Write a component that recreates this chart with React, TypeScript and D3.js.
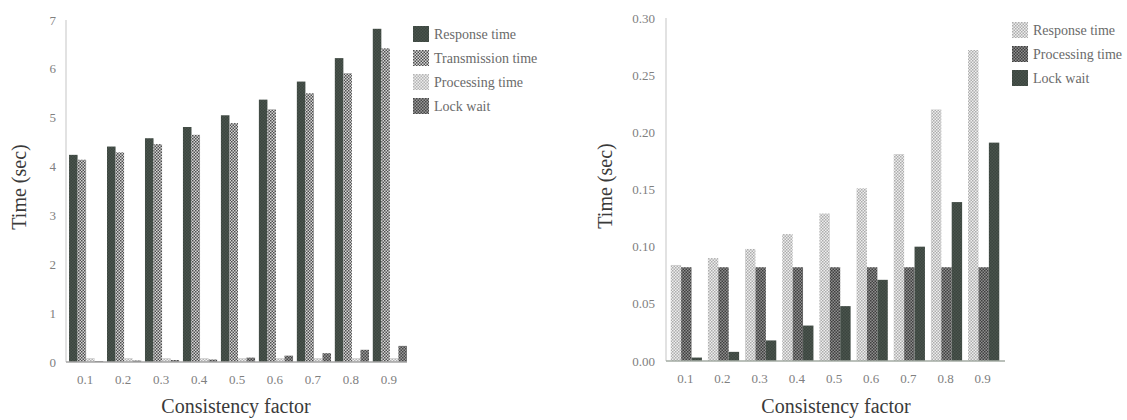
import React, { useEffect } from 'react';
import * as d3 from 'd3';

// --- data ---
const categories = ['0.1', '0.2', '0.3', '0.4', '0.5', '0.6', '0.7', '0.8', '0.9'];

const leftSeries = ['Response time', 'Transmission time', 'Processing time', 'Lock wait'];
const leftResponse = [4.24, 4.41, 4.58, 4.81, 5.05, 5.37, 5.74, 6.22, 6.82];
const leftTransmission = [4.14, 4.29, 4.46, 4.65, 4.89, 5.17, 5.5, 5.91, 6.42];
const leftProcessing = [0.08, 0.08, 0.08, 0.08, 0.08, 0.08, 0.08, 0.08, 0.08];
const leftLockWait = [0.02, 0.03, 0.04, 0.05, 0.09, 0.13, 0.18, 0.25, 0.33];
const leftTicks = [0, 1, 2, 3, 4, 5, 6, 7];

const rightSeries = ['Response time', 'Processing time', 'Lock wait'];
const rightResponse = [0.084, 0.09, 0.098, 0.111, 0.129, 0.151, 0.181, 0.22, 0.272];
const rightProcessing = [0.082, 0.082, 0.082, 0.082, 0.082, 0.082, 0.082, 0.082, 0.082];
const rightLockWait = [0.003, 0.008, 0.018, 0.031, 0.048, 0.071, 0.1, 0.139, 0.191];
const rightTicks = [0, 0.05, 0.1, 0.15, 0.2, 0.25, 0.3];

const FONT = "'Liberation Serif', 'DejaVu Serif', serif";

// checker patterns standing in for the print screens
const patterns = [
  { id: 'solidDark', bg: '#3b453f', fg: '#4a544d' },
  { id: 'hatch', bg: '#d6d6d6', fg: '#4e4e4e' },
  { id: 'light', bg: '#ececec', fg: '#b4b4b4' },
  { id: 'midDark', bg: '#9a9a9a', fg: '#474747' },
  { id: 'rLight', bg: '#eeeeee', fg: '#adadad' },
  { id: 'rMid', bg: '#8e8e8e', fg: '#3f3f3f' },
];

type Panel = {
  key: string;
  series: string[];
  values: number[][];
  fills: string[];
  ticks: number[];
  fmt: (v: number) => string;
  yMax: number;
  axisX0: number; axisX1: number;
  band0: number; band1: number;
  yTop: number; yBottom: number;
  padInner: number; padOuter: number;
  tickEnd: number;
  yTitleX: number; yTitleY: number;
  xTitleX: number;
  legendX: number; legendY: number;
  axisColor: string;
};

const panels: Panel[] = [
  {
    key: 'left',
    series: leftSeries,
    values: [leftResponse, leftTransmission, leftProcessing, leftLockWait],
    fills: ['solidDark', 'hatch', 'light', 'midDark'],
    ticks: leftTicks,
    fmt: d3.format('d'),
    yMax: 7,
    axisX0: 66, axisX1: 407,
    band0: 66, band1: 410,
    yTop: 20, yBottom: 362,
    padInner: 0.1, padOuter: 0.08,
    tickEnd: 56,
    yTitleX: 19, yTitleY: 187,
    xTitleX: 236,
    legendX: 413, legendY: 26,
    axisColor: '#a4a4a4',
  },
  {
    key: 'right',
    series: rightSeries,
    values: [rightResponse, rightProcessing, rightLockWait],
    fills: ['rLight', 'rMid', 'solidDark'],
    ticks: rightTicks,
    fmt: d3.format('.2f'),
    yMax: 0.3,
    axisX0: 666, axisX1: 1005,
    band0: 667, band1: 1003,
    yTop: 18, yBottom: 361,
    padInner: 0.16, padOuter: 0.1,
    tickEnd: 655,
    yTitleX: 605, yTitleY: 186,
    xTitleX: 836,
    legendX: 1012, legendY: 22,
    axisColor: '#a3aba3',
  },
];

const ChartPanel = ({ p }: { p: Panel }) => {
  const x = d3.scaleBand<string>().domain(categories).range([p.band0, p.band1])
    .paddingInner(p.padInner).paddingOuter(p.padOuter);
  const xs = d3.scaleBand<string>().domain(p.series).range([0, x.bandwidth()]);
  const y = d3.scaleLinear().domain([0, p.yMax]).range([p.yBottom, p.yTop]);
  const legendStep = 24;

  return (
    <g>
      {/* y axis line */}
      <line x1={p.axisX0} x2={p.axisX0} y1={y(p.yMax)} y2={y(0)} stroke="#cfcfcf" strokeWidth={1.2} />
      {p.ticks.map(t => (
        <text key={t} x={p.tickEnd} y={y(t)} dy="0.35em" textAnchor="end"
          fontFamily={FONT} fontSize={13} fill="#808080">{p.fmt(t)}</text>
      ))}
      {/* bars */}
      {categories.map((c, i) => (
        <g key={c}>
          {p.series.map((s, k) => (
            <rect key={s}
              x={(x(c) ?? 0) + (xs(s) ?? 0)}
              y={y(p.values[k][i])}
              width={xs.bandwidth()}
              height={y(0) - y(p.values[k][i])}
              fill={`url(#${p.fills[k]})`} />
          ))}
          <text x={(x(c) ?? 0) + x.bandwidth() / 2 - 1} y={y(0) + 22} textAnchor="middle"
            fontFamily={FONT} fontSize={13} fill="#808080">{c}</text>
        </g>
      ))}
      {/* x axis baseline */}
      <line x1={p.axisX0} x2={p.axisX1} y1={y(0)} y2={y(0)} stroke={p.axisColor} strokeWidth={1.5} />
      {/* titles */}
      <text x={p.xTitleX} y={413} textAnchor="middle" fontFamily={FONT} fontSize={20} fill="#3a3a3a">
        Consistency factor
      </text>
      <text transform={`translate(${p.yTitleX},${p.yTitleY}) rotate(-90)`}
        textAnchor="middle" dy="0.35em" fontFamily={FONT} fontSize={20} fill="#3a3a3a">
        Time (sec)
      </text>
      {/* legend */}
      {p.series.map((s, k) => (
        <g key={s} transform={`translate(${p.legendX},${p.legendY + k * legendStep})`}>
          <rect width={16} height={16} fill={`url(#${p.fills[k]})`} />
          <text x={21} y={8} dy="0.35em" fontFamily={FONT} fontSize={14} fill="#6a6a6a">{s}</text>
        </g>
      ))}
    </g>
  );
};

const App = () => {
  useEffect(() => {
    document.body.style.margin = '0';
  }, []);

  return (
    <svg width={1127} height={420} style={{ display: 'block', background: '#fff' }}>
      <defs>
        {patterns.map(pt => (
          <pattern key={pt.id} id={pt.id} width={3} height={3} patternUnits="userSpaceOnUse">
            <rect width={3} height={3} fill={pt.bg} />
            <rect x={0} y={0} width={1.5} height={1.5} fill={pt.fg} />
            <rect x={1.5} y={1.5} width={1.5} height={1.5} fill={pt.fg} />
          </pattern>
        ))}
      </defs>
      {panels.map(p => <ChartPanel key={p.key} p={p} />)}
    </svg>
  );
};

export default App;
